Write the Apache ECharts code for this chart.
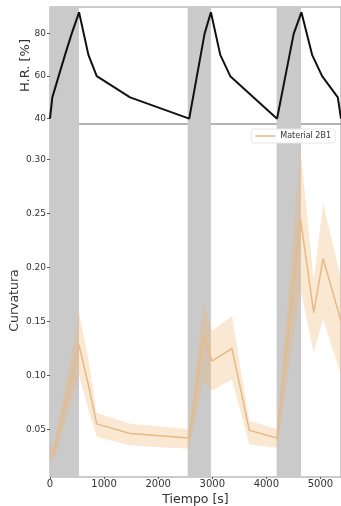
<!DOCTYPE html>
<html>
<head>
<meta charset="utf-8">
<script src="https://cdn.jsdelivr.net/npm/echarts@6/dist/echarts.min.js"></script>
<style>html,body{margin:0;padding:0;background:#fff}#c{width:341px;height:506px}</style>
</head>
<body>
<div id="c"></div>
<script>
// ---- data ----
const xMax = 5380;
const bandStart = [0, 2545, 4190];
const bandEnd = [537, 2975, 4640];

const hrTime  = [0, 43, 278, 401, 537, 710, 864, 1481, 2574, 2716, 2858, 2975, 3148, 3333, 3765, 4198, 4352, 4506, 4648, 4846, 5031, 5321, 5380];
const hrValue = [40, 50, 70, 80, 90, 70, 60, 50, 40, 60, 80, 90, 70, 60, 50, 40, 60, 80, 90, 70, 60, 50, 40];

const cTime  = [0, 61, 278, 401, 537, 710, 864, 1481, 2574, 2838, 2994, 3364, 3685, 4198, 4630, 4876, 5050, 5380];
const cMean  = [0.031, 0.026, 0.072, 0.098, 0.128, 0.091, 0.055, 0.046, 0.042, 0.138, 0.113, 0.125, 0.049, 0.042, 0.245, 0.158, 0.208, 0.150];
const cUpper = [0.040, 0.033, 0.088, 0.120, 0.158, 0.115, 0.065, 0.055, 0.050, 0.168, 0.141, 0.155, 0.058, 0.050, 0.310, 0.188, 0.259, 0.190];
const cLower = [0.022, 0.020, 0.056, 0.076, 0.100, 0.068, 0.043, 0.035, 0.032, 0.095, 0.086, 0.096, 0.036, 0.033, 0.180, 0.121, 0.152, 0.100];

const hrTicks = [40, 60, 80];
const cTicks = [0.05, 0.10, 0.15, 0.20, 0.25, 0.30];
const xTicks = [0, 1000, 2000, 3000, 4000, 5000];
const seriesName = 'Material 2B1';

// ---- chart ----
const chart = echarts.init(document.getElementById('c'), null, {renderer: 'canvas'});
const FONT = 'DejaVu Sans';
const GRAY = '#cacaca';
const LINE = '#e6b986';

function bandRender(params, api) {
  const cs = params.coordSys;
  const x0 = api.coord([api.value(0), 0])[0];
  const x1 = api.coord([api.value(1), 0])[0];
  return {type: 'rect', shape: {x: x0, y: cs.y, width: x1 - x0, height: cs.height},
          style: {fill: GRAY}};
}

function ciRender(params, api) {
  if (params.dataIndex !== 0) return;
  const pts = [];
  for (let i = 0; i < cTime.length; i++) pts.push(api.coord([cTime[i], cUpper[i]]));
  for (let i = cTime.length - 1; i >= 0; i--) pts.push(api.coord([cTime[i], cLower[i]]));
  return {type: 'polygon', shape: {points: pts}, style: {fill: 'rgba(240,180,110,0.30)'}};
}

const bandData = bandStart.map((s, i) => [s, bandEnd[i]]);

chart.setOption({
  animation: false,
  textStyle: {fontFamily: FONT},
  grid: [
    {left: 50, top: 7, right: 0, height: 117, show: true, borderColor: '#999', borderWidth: 1,
     containLabel: false, outerBoundsMode: 'none'},
    {left: 50, top: 124, right: 0, height: 353, show: true, borderColor: '#999', borderWidth: 1,
     containLabel: false, outerBoundsMode: 'none'}
  ],
  legend: {
    data: [{name: seriesName, icon: 'rect'}], right: 6, top: 129, itemWidth: 20, itemHeight: 1.6, itemGap: 4,
    padding: [3, 4], backgroundColor: '#fff', borderColor: '#e6e6e6', borderWidth: 1, borderRadius: 2,
    textStyle: {fontSize: 8, color: '#333', fontFamily: FONT}
  },
  xAxis: [
    {type: 'value', gridIndex: 0, min: 0, max: xMax, axisLine: {show: false},
     axisTick: {show: false}, axisLabel: {show: false}, splitLine: {show: false}},
    {type: 'value', gridIndex: 1, min: 0, max: xMax, axisLine: {show: false},
     axisTick: {show: true, length: 2, lineStyle: {color: '#555'}, customValues: xTicks},
     axisLabel: {fontSize: 10, color: '#333', margin: 2, customValues: xTicks, fontFamily: FONT,
                 formatter: v => String(v)},
     splitLine: {show: false},
     name: 'Tiempo [s]', nameLocation: 'middle', nameGap: 16, nameMoveOverlap: false,
     nameTextStyle: {fontSize: 12.5, color: '#333', fontFamily: FONT}}
  ],
  yAxis: [
    {type: 'value', gridIndex: 0, min: 37.5, max: 92.5, axisLine: {show: false},
     axisTick: {show: true, length: 3, lineStyle: {color: '#555'}, customValues: hrTicks},
     axisLabel: {fontSize: 9, color: '#333', margin: 4, customValues: hrTicks, fontFamily: FONT,
                 formatter: v => String(v)},
     splitLine: {show: false},
     name: 'H.R. [%]', nameLocation: 'middle', nameRotate: 90, nameGap: 18, nameMoveOverlap: false,
     nameTextStyle: {fontSize: 13, color: '#333', fontFamily: FONT}},
    {type: 'value', gridIndex: 1, min: 0.0058, max: 0.3327, axisLine: {show: false},
     axisTick: {show: true, length: 3, lineStyle: {color: '#555'}, customValues: cTicks},
     axisLabel: {fontSize: 9, color: '#333', margin: 4, customValues: cTicks,
                 formatter: v => v.toFixed(2), fontFamily: FONT},
     splitLine: {show: false},
     name: 'Curvatura', nameLocation: 'middle', nameRotate: 90, nameGap: 29, nameMoveOverlap: false,
     nameTextStyle: {fontSize: 12.5, color: '#333', fontFamily: FONT}}
  ],
  series: [
    {type: 'custom', xAxisIndex: 0, yAxisIndex: 0, renderItem: bandRender, data: bandData,
     encode: {x: [0, 1]}, z: 1, silent: true},
    {type: 'custom', xAxisIndex: 1, yAxisIndex: 1, renderItem: bandRender, data: bandData,
     encode: {x: [0, 1]}, z: 1, silent: true},
    {type: 'line', name: 'H.R.', xAxisIndex: 0, yAxisIndex: 0, showSymbol: false, symbol: 'none',
     data: hrTime.map((t, i) => [t, hrValue[i]]), lineStyle: {color: '#111', width: 2},
     itemStyle: {color: '#111'}, z: 3},
    {type: 'custom', xAxisIndex: 1, yAxisIndex: 1, renderItem: ciRender, clip: true,
     data: [[cTime[0], cLower[0]]], encode: {x: 0, y: 1}, z: 2, silent: true},
    {type: 'line', name: seriesName, xAxisIndex: 1, yAxisIndex: 1, showSymbol: false, symbol: 'none',
     data: cTime.map((t, i) => [t, cMean[i]]), lineStyle: {color: LINE, width: 1.5},
     itemStyle: {color: LINE}, z: 3}
  ]
});
</script>
</body>
</html>
